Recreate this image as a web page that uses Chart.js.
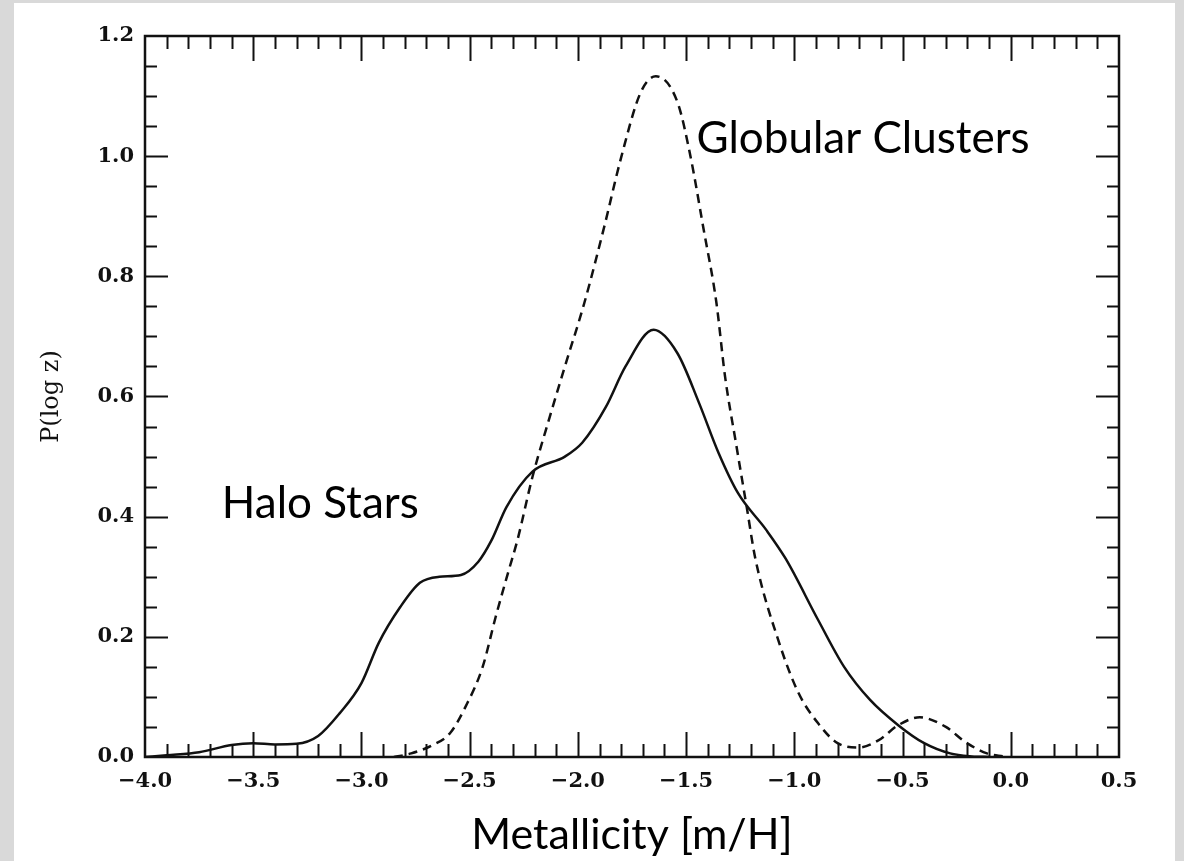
<!DOCTYPE html>
<html>
<head>
<meta charset="utf-8">
<title>Metallicity distribution</title>
<style>
  html, body { margin: 0; padding: 0; background: #d9d9d9; }
  body { width: 1184px; height: 861px; position: relative; overflow: hidden; }
  #box { position: absolute; left: 14px; top: 3px; width: 1161px; height: 858px; background: #fff; }
</style>
</head>
<body>
<div id="box"><canvas id="mdf"></canvas></div>
<script src="https://cdn.jsdelivr.net/npm/chart.js"></script>
<script>
  // halo field stars, solid curve
  const haloX = [-4.0, -3.9, -3.75, -3.6, -3.5, -3.4, -3.3, -3.2, -3.1, -3.0, -2.92, -2.82, -2.73, -2.64, -2.54, -2.46, -2.4, -2.33, -2.21, -2.06, -1.98, -1.87, -1.78, -1.65, -1.54, -1.44, -1.35, -1.26, -1.13, -1.04, -0.89, -0.77, -0.65, -0.52, -0.4, -0.28, -0.18, -0.1];
  const haloP = [0, 0.003, 0.008, 0.02, 0.023, 0.021, 0.022, 0.035, 0.073, 0.123, 0.19, 0.25, 0.29, 0.30, 0.303, 0.325, 0.36, 0.416, 0.475, 0.50, 0.523, 0.583, 0.65, 0.711, 0.672, 0.589, 0.506, 0.439, 0.378, 0.33, 0.228, 0.15, 0.095, 0.053, 0.023, 0.006, 0.001, 0];

  // globular clusters, dashed curve
  const gcX = [-2.85, -2.77, -2.67, -2.59, -2.52, -2.44, -2.38, -2.32, -2.28, -2.21, -2.13, -2.06, -1.97, -1.88, -1.8, -1.71, -1.64, -1.54, -1.48, -1.42, -1.36, -1.32, -1.27, -1.22, -1.18, -1.07, -0.98, -0.89, -0.8, -0.7, -0.61, -0.52, -0.42, -0.3, -0.21, -0.11, -0.03];
  const gcP = [0, 0.006, 0.02, 0.04, 0.083, 0.15, 0.233, 0.31, 0.36, 0.466, 0.566, 0.65, 0.756, 0.88, 0.998, 1.106, 1.133, 1.09, 1.0, 0.88, 0.756, 0.633, 0.523, 0.416, 0.33, 0.19, 0.106, 0.056, 0.023, 0.016, 0.028, 0.053, 0.066, 0.05, 0.025, 0.006, 0.001];

  const xRange = [-4.0, 0.5];
  const yRange = [0, 1.2];
  const xMinor = 0.1, xMajor = 0.5;
  const yMinor = 0.05, yMajor = 0.2;

  // text labels placed in data coordinates
  const notes = [
    { text: "Globular Clusters", x: -1.452, y: 1.005 },
    { text: "Halo Stars", x: -3.645, y: 0.398 }
  ];

  const serif = "'DejaVu Serif', serif";
  const sans = "Lato, 'Open Sans', sans-serif";

  const pts = (xs, ys) => xs.map((x, i) => ({ x: x, y: ys[i] }));
  const minus = (v) => (v < 0 ? "\u2212" : "") + Math.abs(v).toFixed(1);

  // closed frame with inward ticks on all four sides
  const frame = {
    id: "frame",
    afterDatasetsDraw(chart) {
      const { ctx, chartArea: a, scales } = chart;
      const sx = scales.x, sy = scales.y;
      ctx.save();
      ctx.strokeStyle = "#111";
      ctx.lineCap = "butt";
      ctx.lineWidth = 2;
      ctx.beginPath();
      const nx = Math.round((xRange[1] - xRange[0]) / xMinor);
      for (let i = 1; i < nx; i++) {
        const v = xRange[0] + i * xMinor;
        const major = Math.abs(v / xMajor - Math.round(v / xMajor)) < 1e-6;
        const len = major ? 25 : 13;
        const px = Math.round(sx.getPixelForValue(v)) + 0.5;
        ctx.moveTo(px, a.bottom); ctx.lineTo(px, a.bottom - len);
        ctx.moveTo(px, a.top); ctx.lineTo(px, a.top + len);
      }
      const ny = Math.round((yRange[1] - yRange[0]) / yMinor);
      for (let i = 1; i < ny; i++) {
        const v = yRange[0] + i * yMinor;
        const major = Math.abs(v / yMajor - Math.round(v / yMajor)) < 1e-6;
        const len = major ? 23 : 12;
        const py = Math.round(sy.getPixelForValue(v)) + 0.5;
        ctx.moveTo(a.left, py); ctx.lineTo(a.left + len, py);
        ctx.moveTo(a.right, py); ctx.lineTo(a.right - len, py);
      }
      ctx.stroke();
      ctx.lineWidth = 2.5;
      ctx.strokeRect(a.left, a.top, a.right - a.left, a.bottom - a.top);

      ctx.fillStyle = "#000";
      ctx.font = "44px " + sans;
      ctx.textAlign = "left";
      ctx.textBaseline = "alphabetic";
      notes.forEach(n => {
        ctx.fillText(n.text, sx.getPixelForValue(n.x), sy.getPixelForValue(n.y));
      });
      ctx.restore();
    }
  };

  new Chart(document.getElementById("mdf"), {
    type: "line",
    data: {
      datasets: [
        {
          label: "Halo Stars",
          data: pts(haloX, haloP),
          borderColor: "#111",
          borderWidth: 2.5,
          pointRadius: 0,
          cubicInterpolationMode: "monotone",
          fill: false
        },
        {
          label: "Globular Clusters",
          data: pts(gcX, gcP),
          borderColor: "#111",
          borderWidth: 2.5,
          borderDash: [9, 6],
          pointRadius: 0,
          cubicInterpolationMode: "monotone",
          fill: false
        }
      ]
    },
    options: {
      responsive: true,
      maintainAspectRatio: false,
      animation: false,
      layout: { padding: { top: 33, right: 56, left: 0, bottom: 0 } },
      plugins: { legend: { display: false }, tooltip: { enabled: false } },
      scales: {
        x: {
          type: "linear",
          min: xRange[0],
          max: xRange[1],
          grid: { display: false, drawTicks: false },
          border: { display: false },
          afterFit: (s) => { s.height = 104; },
          ticks: {
            stepSize: xMajor,
            padding: 12,
            color: "#111",
            font: { family: serif, size: 21, weight: "bold" },
            maxRotation: 0,
            callback: (v) => minus(v)
          },
          title: {
            display: true,
            text: "Metallicity [m/H]",
            color: "#000",
            font: { family: sans, size: 43 },
            padding: { top: 16, bottom: 0 }
          }
        },
        y: {
          min: yRange[0],
          max: yRange[1],
          grid: { display: false, drawTicks: false },
          border: { display: false },
          afterFit: (s) => { s.width = 131; },
          ticks: {
            stepSize: yMajor,
            padding: 11,
            color: "#111",
            font: { family: serif, size: 21, weight: "bold" },
            callback: (v) => v.toFixed(1)
          },
          title: {
            display: true,
            text: "P(log z)",
            color: "#111",
            font: { family: serif, size: 24 },
            padding: { top: 23, bottom: 0 }
          }
        }
      }
    },
    plugins: [frame]
  });
</script>
</body>
</html>
